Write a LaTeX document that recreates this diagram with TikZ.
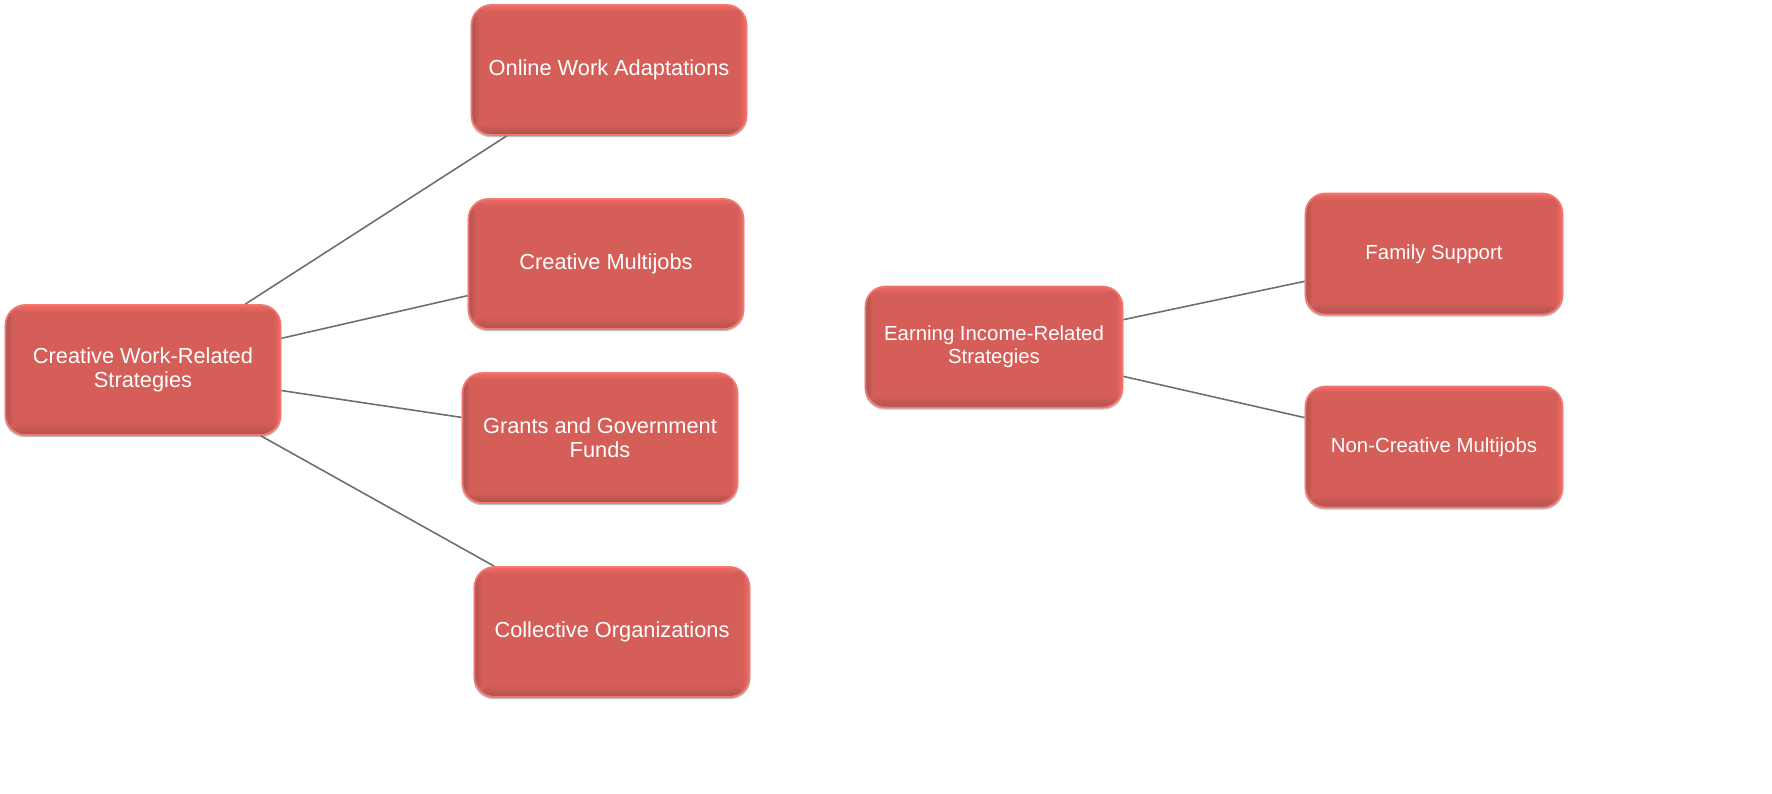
\documentclass[tikz,border=0pt]{standalone}
\usepackage{fontspec}
\setmainfont{Liberation Sans}
\usepackage{xcolor}
\usepackage{tikz}
\usetikzlibrary{positioning,shadows,calc}

\definecolor{boxred}{HTML}{D55E59}
\definecolor{boxrim}{HTML}{F27770}
\definecolor{boxdark}{HTML}{B0524F}
\definecolor{boxlight}{HTML}{F26A64}
\definecolor{linkgray}{HTML}{6E6E6E}

\tikzset{
    bevel/.style={path picture={
        \coordinate (sw) at (path picture bounding box.south west);
        \coordinate (ne) at (path picture bounding box.north east);
        \shade[top color=boxlight, bottom color=boxred] ($(sw |- ne)+(0,-0.07)$) rectangle (ne);
        \shade[left color=boxred, right color=boxlight] ($(ne |- sw)+(-0.07,0)$) rectangle (ne);
        \shade[left color=boxdark, right color=boxred] (sw) rectangle ($(sw |- ne)+(0.08,0)$);
        \shade[top color=boxred, bottom color=boxdark] (sw) rectangle ($(ne |- sw)+(0,0.12)$);
    }}
}

\begin{document}
\begin{tikzpicture}[
    box/.style={draw=boxrim, line width=0.5pt, fill=boxred, bevel, rounded corners=0.2cm,
        text=white, align=center, inner sep=0pt,
        drop shadow={shadow xshift=0pt, shadow yshift=-0.5pt, shadow scale=1.006, opacity=0.4, fill=black!60}},
    bigbox/.style={box, minimum width=2.75cm, minimum height=1.30cm,
        font=\fontsize{6.2}{6.9}\selectfont},
    smallbox/.style={box, minimum width=2.57cm, minimum height=1.21cm,
        font=\fontsize{5.8}{6.5}\selectfont},
    link/.style={draw=linkgray, line width=0.45pt}
]
    \useasboundingbox (0,0) rectangle (17.72,7.94);

    % Creative work side
    \node[bigbox] (creative) at (1.43,4.24) {Creative Work-Related\\Strategies};
    \node[bigbox] (online) at (6.09,7.24) {Online Work Adaptations};
    \node[bigbox] (multijobs) at (6.06,5.30) {Creative Multijobs};
    \node[bigbox] (grants) at (6.00,3.56) {Grants and Government\\Funds};
    \node[bigbox] (collective) at (6.12,1.62) {Collective Organizations};

    % Earning income side
    \node[smallbox] (earning) at (9.94,4.47) {Earning Income-Related\\Strategies};
    \node[smallbox] (family) at (14.34,5.40) {Family Support};
    \node[smallbox] (noncreative) at (14.34,3.47) {Non-Creative Multijobs};

    % Links
    \draw[link] (creative) -- (online);
    \draw[link] (creative) -- (multijobs);
    \draw[link] (creative) -- (grants);
    \draw[link] (creative) -- (collective);
    \draw[link] (earning) -- (family);
    \draw[link] (earning) -- (noncreative);
\end{tikzpicture}
\end{document}
